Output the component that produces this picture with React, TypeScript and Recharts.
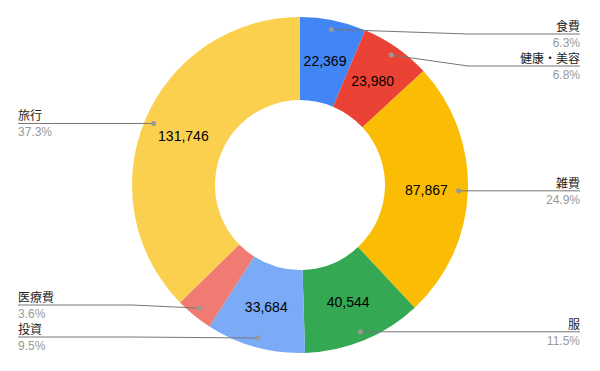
import React from 'react';
import { PieChart, Pie, Cell } from 'recharts';

const categories = ['食費', '健康・美容', '雑費', '服', '投資', '医療費', '旅行'];
const amounts = [22369, 23980, 87867, 40544, 33684, 12700, 131746];
const colors = ['#4285F4', '#EA4335', '#FBBC04', '#34A853', '#7BAAF7', '#F07B72', '#FCD04F'];

const data = categories.map((name, i) => ({ name, value: amounts[i] }));

const W = 600;
const H = 371;
const CX = 300;
const CY = 185;
const OUTER = 168;
const INNER = 85;
const LABEL_GAP = 32;
const FONT = '"Liberation Sans", Arial, "Noto Sans CJK JP", sans-serif';

// leader line / label layout, worked out from the slice angles
const total = amounts.reduce((a, b) => a + b, 0);
const layout = (() => {
    let cum = 0;
    const items = amounts.map((v, i) => {
        const theta = (2 * Math.PI * (cum + v / 2)) / total;
        cum += v;
        const r = OUTER * 0.945;
        const dx = CX + r * Math.sin(theta);
        const dy = CY - r * Math.cos(theta);
        return { i, theta, dx, dy, side: dx >= CX ? 'right' : 'left', ly: dy };
    });
    const right = items.filter(d => d.side === 'right').sort((a, b) => a.dy - b.dy);
    let prev = -Infinity;
    right.forEach(d => {
        d.ly = Math.max(d.dy, prev + LABEL_GAP, 34);
        prev = d.ly;
    });
    const left = items.filter(d => d.side === 'left').sort((a, b) => b.dy - a.dy);
    prev = Infinity;
    left.forEach(d => {
        d.ly = Math.min(d.dy, prev - LABEL_GAP, 337);
        prev = d.ly;
    });
    return items;
})();

const renderLabel = (props: any) => {
    const { index, value } = props;
    const item = layout[index];
    const pct = (value / total) * 100;
    const rMid = (INNER + OUTER) / 2;
    const tx = CX + rMid * Math.sin(item.theta);
    const ty = CY - rMid * Math.cos(item.theta);
    const isRight = item.side === 'right';
    const edgeX = isRight ? CX + OUTER : CX - OUTER;
    const endX = isRight ? 580 : 18;
    const elbowX = isRight ? Math.max(edgeX, item.dx) : Math.min(edgeX, item.dx);
    const points = `${item.dx},${item.dy} ${elbowX},${item.ly} ${endX},${item.ly}`;
    return (
        <g key={`lbl-${index}`}>
            {pct >= 5 && (
                <text x={tx} y={ty} textAnchor="middle" dominantBaseline="central"
                    fontSize={14} fontFamily={FONT} fill="#000">
                    {value.toLocaleString('en-US')}
                </text>
            )}
            <polyline points={points} fill="none" stroke="#777" strokeWidth={1} />
            <circle cx={item.dx} cy={item.dy} r={2.5} fill="#999" />
            <text x={endX} y={item.ly - 3} textAnchor={isRight ? 'end' : 'start'}
                fontSize={12} fontFamily={FONT} fill="#222">
                {categories[index]}
            </text>
            <text x={endX} y={item.ly + 13} textAnchor={isRight ? 'end' : 'start'}
                fontSize={12} fontFamily={FONT} fill="#999">
                {pct.toFixed(1)}%
            </text>
        </g>
    );
};

const App: React.FC = () => {
    return (
        <div style={{ position: 'absolute', left: 0, top: 0, width: W, height: H, background: '#fff' }}>
            <PieChart width={W} height={H} margin={{ top: 0, right: 0, bottom: 0, left: 0 }}>
                <Pie
                    data={data}
                    dataKey="value"
                    nameKey="name"
                    cx={CX}
                    cy={CY}
                    innerRadius={INNER}
                    outerRadius={OUTER}
                    startAngle={90}
                    endAngle={-270}
                    stroke="none"
                    label={renderLabel}
                    labelLine={false}
                    isAnimationActive={false}
                >
                    {data.map((d, i) => (
                        <Cell key={d.name} fill={colors[i]} />
                    ))}
                </Pie>
            </PieChart>
        </div>
    );
};

export default App;
